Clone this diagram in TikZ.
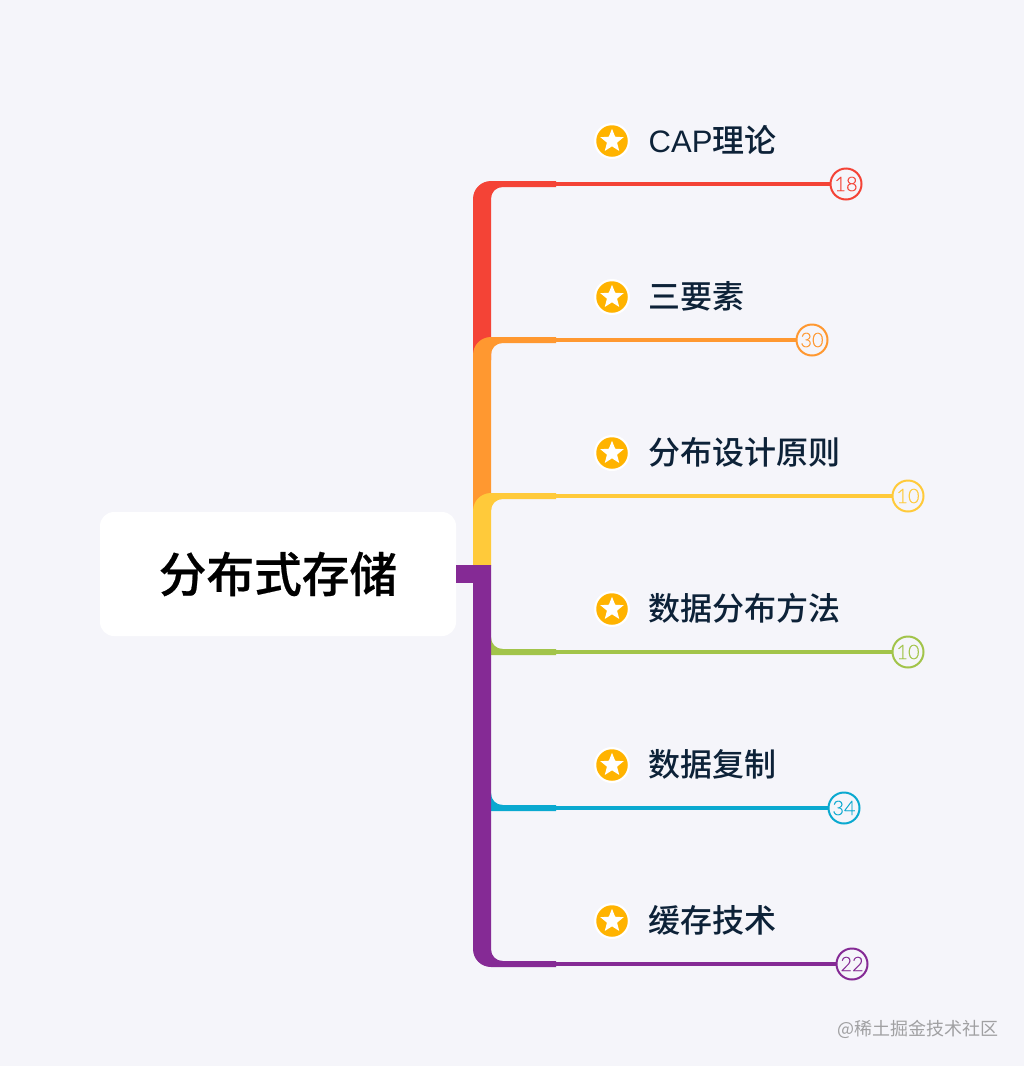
\documentclass[tikz,border=0pt]{standalone}
\usepackage{fontspec}
\usetikzlibrary{shapes.geometric}
\setmainfont{Liberation Sans}
\newfontfamily\cjk{Noto Sans CJK SC Medium}
\newfontfamily\cjkroot{Noto Sans CJK SC Medium}[FakeBold=0.5]
\newfontfamily\cjkr{Noto Sans CJK SC}
\newfontfamily\latinf{Liberation Sans}[Scale=0.97]
\newfontfamily\numf{Lato Light}[FakeBold=0.15]
\definecolor{bgc}{HTML}{F5F5FA}
\definecolor{cred}{HTML}{F44336}
\definecolor{corange}{HTML}{FF9830}
\definecolor{cyellow}{HTML}{FFCA3A}
\definecolor{cgreen}{HTML}{A2C44A}
\definecolor{ccyan}{HTML}{0AA9D0}
\definecolor{cpurple}{HTML}{852A95}
\definecolor{cstar}{HTML}{FFB300}
\definecolor{cnavy}{HTML}{0D2238}
\definecolor{cmark}{HTML}{A0A0A2}
\tikzset{
  rootbox/.style={fill=white,rounded corners=14pt,minimum width=356pt,minimum height=124pt,inner sep=0pt,font=\cjkroot\fontsize{47.7pt}{50pt}\selectfont,text=black},
  topic/.style={anchor=base west,inner sep=0pt,text=cnavy,font=\cjk\fontsize{32pt}{34pt}\selectfont},
  ring/.style={circle,fill=white,minimum size=36pt,inner sep=0pt},
  disc/.style={circle,fill=cstar,minimum size=31.5pt,inner sep=0pt},
  starmark/.style={star,star points=5,star point ratio=2.3,fill=white,minimum size=24.5pt,inner sep=0pt},
  badge/.style={circle,draw=#1,fill=bgc,line width=2pt,minimum size=31pt,inner sep=0pt,text=#1,font=\numf\fontsize{20pt}{22pt}\selectfont},
  thin/.style={line width=4pt,#1},
}
\newcommand{\branchup}[3]{%
  \fill[#1] (556,#2) -- (491,#2) .. controls (481,#2) and (473,#2+8) .. (473,#2+18)
    -- (473,#3) -- (491,#3) -- (491,#2+18) .. controls (491,#2+11) and (496,#2+6) .. (503,#2+6)
    -- (556,#2+6) -- cycle;}
\newcommand{\branchdown}[2]{%
  \fill[#1] (556,#2) -- (503,#2) .. controls (496,#2) and (491,#2-5) .. (491,#2-12)
    -- (485,#2-12) -- (485,#2+6) -- (556,#2+6) -- cycle;}
\begin{document}
\begin{tikzpicture}[x=1pt,y=-1pt]
\useasboundingbox (0,0) rectangle (1024,1066);
\fill[bgc] (0,0) rectangle (1024,1066);
\node[rootbox] (root) at (278,574) {分布式存储};

\coordinate (c1) at (556,184);
\coordinate (c2) at (556,340);
\coordinate (c3) at (556,496);
\coordinate (c4) at (556,652);
\coordinate (c5) at (556,808);
\coordinate (c6) at (556,964);
\coordinate (tr) at (491,574);

\branchup{cred}{181}{360}
\branchup{corange}{337}{510}
\branchup{cyellow}{493}{566}
\branchdown{cgreen}{649}
\branchdown{ccyan}{805}
\fill[cpurple] (491,565) -- (473,565) -- (473,949) .. controls (473,959) and (481,967) .. (491,967)
  -- (556,967) -- (556,961) -- (503,961) .. controls (496,961) and (491,956) .. (491,949) -- cycle;
\draw[cpurple,line width=18pt] (root.east) -- (tr);

\node[badge=cred] (b1) at (846,184) {18};
\node[badge=corange] (b2) at (812,340) {30};
\node[badge=cyellow] (b3) at (908,496) {10};
\node[badge=cgreen] (b4) at (908,652) {10};
\node[badge=ccyan] (b5) at (844,808) {34};
\node[badge=cpurple] (b6) at (852,964) {22};
\draw[thin=cred] (c1) -- (b1);
\draw[thin=corange] (c2) -- (b2);
\draw[thin=cyellow] (c3) -- (b3);
\draw[thin=cgreen] (c4) -- (b4);
\draw[thin=ccyan] (c5) -- (b5);
\draw[thin=cpurple] (c6) -- (b6);

\foreach \i/\y in {1/141,2/297,3/453,4/609,5/765,6/921}{
  \node[ring] (r\i) at (612,\y) {};
  \node[disc] (d\i) at (612,\y) {};
  \node[starmark] (s\i) at (612,\y) {};
}
\node[topic] (t1) at (648.5,152) {{\latinf CAP}理论};
\node[topic] (t2) at (648.5,308) {三要素};
\node[topic] (t3) at (648.5,464) {分布设计原则};
\node[topic] (t4) at (648.5,620) {数据分布方法};
\node[topic] (t5) at (648.5,776) {数据复制};
\node[topic] (t6) at (648.5,932) {缓存技术};
\node[anchor=base west,inner sep=0pt,text=cmark,font=\cjkr\fontsize{18pt}{20pt}\selectfont] (wm) at (837,1035) {@稀土掘金技术社区};
\end{tikzpicture}
\end{document}
